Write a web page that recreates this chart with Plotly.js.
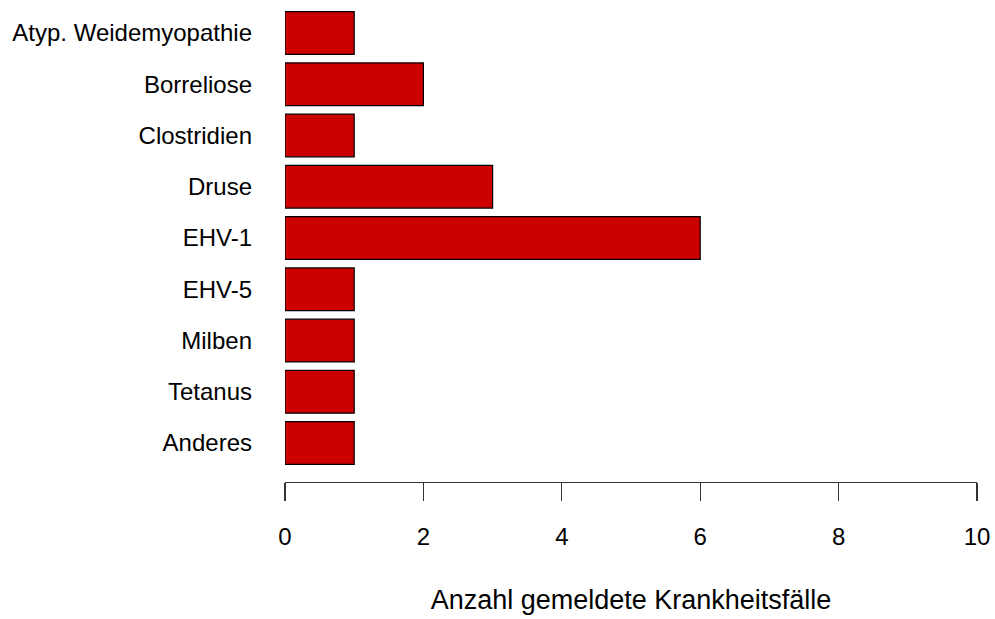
<!DOCTYPE html>
<html>
<head>
<meta charset="utf-8">
<script src="https://cdn.plot.ly/plotly-3.0.1.min.js"></script>
<style>
  html, body { margin: 0; padding: 0; background: #fff; }
  #chart { width: 995px; height: 619px; }
</style>
</head>
<body>
<div id="chart"></div>
<script>
// Gemeldete Krankheitsfälle nach Erkrankung
const diseases = [
  "Atyp. Weidemyopathie",
  "Borreliose",
  "Clostridien",
  "Druse",
  "EHV-1",
  "EHV-5",
  "Milben",
  "Tetanus",
  "Anderes",
];
const cases = [1, 2, 1, 3, 6, 1, 1, 1, 1];
const xTicks = [0, 2, 4, 6, 8, 10];

const textFont = { family: "Liberation Sans, Arial, sans-serif", size: 24, color: "#000" };

const trace = {
  type: "bar",
  orientation: "h",
  x: cases,
  y: diseases,
  width: 0.833,
  marker: {
    color: "#cc0000",
    line: { color: "#000", width: 1.2 },
  },
  hoverinfo: "x+y",
};

const layout = {
  width: 995,
  height: 619,
  margin: { l: 285, r: 18, t: 0, b: 137 },
  paper_bgcolor: "#fff",
  plot_bgcolor: "#fff",
  showlegend: false,
  font: textFont,
  bargap: 0,
  xaxis: {
    range: [0, 10],
    tickvals: xTicks,
    ticktext: xTicks.map(String),
    showgrid: false,
    zeroline: false,
    showline: true,
    linecolor: "#333",
    linewidth: 1.3,
    ticks: "outside",
    ticklen: 18,
    tickwidth: 1.3,
    tickcolor: "#333",
    ticklabelstandoff: 15,
    tickfont: { size: 24 },
    title: { text: "Anzahl gemeldete Krankheitsfälle", font: { size: 27 }, standoff: 41 },
    fixedrange: true,
  },
  yaxis: {
    type: "category",
    categoryorder: "array",
    categoryarray: diseases,
    range: [8.76, -0.644],
    showgrid: false,
    zeroline: false,
    showline: false,
    ticks: "",
    ticklabelstandoff: 32,
    tickfont: { size: 24 },
    fixedrange: true,
  },
};

Plotly.newPlot("chart", [trace], layout, { displayModeBar: false, staticPlot: true });
</script>
</body>
</html>
